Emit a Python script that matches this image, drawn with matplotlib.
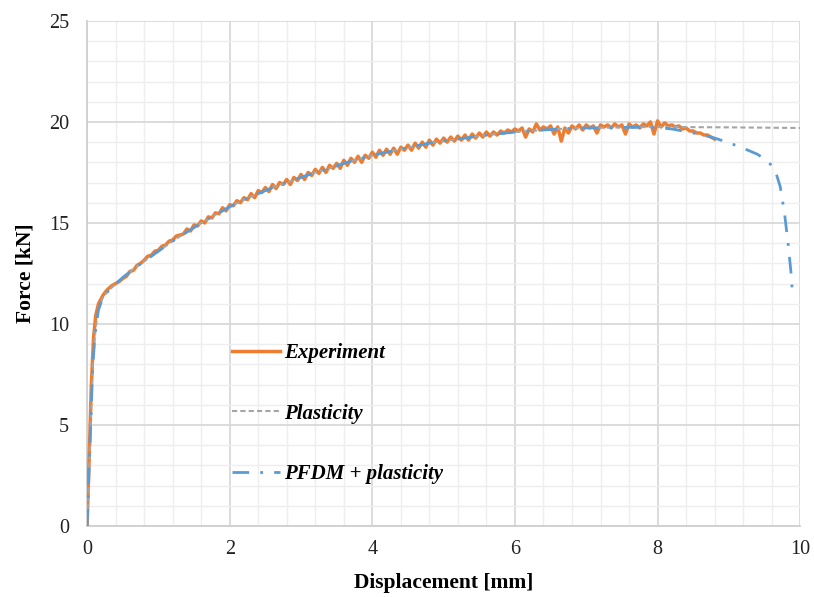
import numpy as np
import matplotlib
matplotlib.use("Agg")
import matplotlib.pyplot as plt
from matplotlib.ticker import MultipleLocator

# --- data ---
# Plasticity model (grey dashed)
plast_disp = [0.0, 0.04, 0.08, 0.12, 0.16, 0.22, 0.3, 0.5, 0.7, 1.0, 1.2, 1.4, 1.6,
              1.8, 2.0, 2.2, 2.4, 2.6, 2.8, 3.0, 3.2, 3.4, 3.6, 3.8, 4.0, 4.2, 4.4,
              4.6, 4.8, 5.0, 5.2, 5.4, 5.6, 5.8, 6.0, 6.2, 6.4, 6.6, 6.8, 7.0, 7.5,
              8.0, 9.0, 10.0]
plast_force = [0.0, 4.0, 8.0, 9.8, 10.7, 11.3, 11.65, 12.3, 12.85, 13.6, 14.1, 14.55,
               15.0, 15.4, 15.8, 16.15, 16.45, 16.75, 17.0, 17.25, 17.5, 17.7, 17.95,
               18.15, 18.35, 18.5, 18.65, 18.8, 18.95, 19.05, 19.15, 19.25, 19.35,
               19.42, 19.5, 19.55, 19.6, 19.65, 19.68, 19.7, 19.73, 19.75, 19.73, 19.7]

# PFDM + plasticity model (blue dash-dot)
pfdm_disp = [0.0, 0.04, 0.08, 0.12, 0.16, 0.22, 0.3, 0.5, 0.7, 1.0, 1.2, 1.4, 1.6,
             1.8, 2.0, 2.2, 2.4, 2.6, 2.8, 3.0, 3.2, 3.4, 3.6, 3.8, 4.0, 4.2, 4.4,
             4.6, 4.8, 5.0, 5.2, 5.4, 5.6, 5.8, 6.0, 6.2, 6.4, 6.6, 6.8, 7.0, 7.2,
             7.4, 7.6, 7.8, 8.0, 8.2, 8.4, 8.6, 8.8, 9.0, 9.2, 9.4, 9.55, 9.65,
             9.72, 9.78, 9.83, 9.87, 9.89]
pfdm_force = [0.0, 4.0, 8.0, 9.8, 10.7, 11.3, 11.65, 12.3, 12.85, 13.6, 14.1, 14.55,
              15.0, 15.4, 15.8, 16.15, 16.45, 16.75, 17.0, 17.25, 17.5, 17.7, 17.95,
              18.15, 18.35, 18.5, 18.65, 18.8, 18.95, 19.05, 19.15, 19.25, 19.35,
              19.42, 19.5, 19.55, 19.6, 19.65, 19.68, 19.7, 19.71, 19.72, 19.73,
              19.73, 19.72, 19.65, 19.52, 19.38, 19.2, 18.97, 18.7, 18.4, 18.05,
              17.6, 16.8, 15.5, 14.0, 12.6, 11.6]

# Experiment (orange, noisy)
exp_disp = [0.0, 0.03, 0.06, 0.09, 0.12, 0.16, 0.22, 0.26,
            0.30, 0.35, 0.40, 0.45, 0.50, 0.55, 0.60, 0.65, 0.70, 0.75,
            0.80, 0.85, 0.90, 0.95, 1.00, 1.05, 1.10, 1.15, 1.20, 1.25,
            1.30, 1.35, 1.40, 1.45, 1.50, 1.55, 1.60, 1.65, 1.70, 1.75,
            1.80, 1.85, 1.90, 1.95, 2.00, 2.05, 2.10, 2.15, 2.20, 2.25,
            2.30, 2.35, 2.40, 2.45, 2.50, 2.55, 2.60, 2.65, 2.70, 2.75,
            2.80, 2.85, 2.90, 2.95, 3.00, 3.05, 3.10, 3.15, 3.20, 3.25,
            3.30, 3.35, 3.40, 3.45, 3.50, 3.55, 3.60, 3.65, 3.70, 3.75,
            3.80, 3.85, 3.90, 3.95, 4.00, 4.05, 4.10, 4.15, 4.20, 4.25,
            4.30, 4.35, 4.40, 4.45, 4.50, 4.55, 4.60, 4.65, 4.70, 4.75,
            4.80, 4.85, 4.90, 4.95, 5.00, 5.05, 5.10, 5.15, 5.20, 5.25,
            5.30, 5.35, 5.40, 5.45, 5.50, 5.55, 5.60, 5.65, 5.70, 5.75,
            5.80, 5.85, 5.90, 5.95, 6.00, 6.05, 6.10, 6.15, 6.20, 6.25,
            6.30, 6.35, 6.40, 6.45, 6.50, 6.55, 6.60, 6.65, 6.70, 6.75,
            6.80, 6.85, 6.90, 6.95, 7.00, 7.05, 7.10, 7.15, 7.20, 7.25,
            7.30, 7.35, 7.40, 7.45, 7.50, 7.55, 7.60, 7.65, 7.70, 7.75,
            7.80, 7.85, 7.90, 7.95, 8.00, 8.05, 8.10, 8.15, 8.20, 8.25,
            8.30, 8.35, 8.40, 8.45, 8.50, 8.55, 8.60, 8.65, 8.70, 8.75,
            8.80]
exp_force = [0.0, 3.5, 7.0, 9.3, 10.4, 11.0, 11.4, 11.6,
             11.75, 11.9, 12.0, 12.1, 12.25, 12.35, 12.6, 12.65, 12.9, 13.0,
             13.15, 13.35, 13.4, 13.6, 13.65, 13.85, 13.9, 14.1, 14.15, 14.35,
             14.4, 14.45, 14.7, 14.6, 14.9, 14.85, 15.1, 15.0, 15.3, 15.25,
             15.5, 15.45, 15.75, 15.6, 15.9, 15.85, 16.1, 16.0, 16.25, 16.15,
             16.45, 16.25, 16.6, 16.5, 16.75, 16.55, 16.9, 16.7, 17.0, 16.9,
             17.15, 16.9, 17.25, 17.1, 17.4, 17.15, 17.5, 17.35, 17.65, 17.45,
             17.75, 17.5, 17.85, 17.7, 17.95, 17.7, 18.1, 17.85, 18.2, 18.0,
             18.3, 18.0, 18.35, 18.2, 18.5, 18.25, 18.6, 18.35, 18.65, 18.4,
             18.7, 18.4, 18.75, 18.6, 18.85, 18.6, 18.95, 18.7, 19.0, 18.75,
             19.1, 18.85, 19.15, 18.95, 19.2, 19.0, 19.25, 19.05, 19.3, 19.1,
             19.35, 19.1, 19.4, 19.2, 19.45, 19.25, 19.5, 19.3, 19.5, 19.35,
             19.55, 19.45, 19.6, 19.5, 19.65, 19.55, 19.7, 19.25, 19.65, 19.5,
             19.9, 19.6, 19.75, 19.65, 19.8, 19.4, 19.75, 19.05, 19.7, 19.45,
             19.8, 19.65, 19.85, 19.6, 19.85, 19.7, 19.8, 19.45, 19.85, 19.75,
             19.85, 19.7, 19.9, 19.75, 19.85, 19.4, 19.9, 19.75, 19.85, 19.7,
             19.9, 19.8, 20.0, 19.4, 20.05, 19.75, 19.95, 19.8, 19.85, 19.75,
             19.8, 19.65, 19.7, 19.55, 19.55, 19.45, 19.45, 19.35, 19.35, 19.25,
             19.15]

x_ticks = [0, 2, 4, 6, 8, 10]
y_ticks = [0, 5, 10, 15, 20, 25]

ORANGE = "#ED7D31"
BLUE = "#5B9BD5"
GREY = "#A5A5A5"

plt.rcParams["font.family"] = ["Liberation Serif", "DejaVu Serif"]

fig = plt.figure(figsize=(8.14, 5.97), dpi=100)
ax = fig.add_axes([0.107, 0.119, 0.876, 0.846])

ax.plot(exp_disp, exp_force, color=ORANGE, lw=2.5, label="Experiment", zorder=3)
ax.plot(plast_disp, plast_force, color=GREY, lw=1.5, dashes=(2.5, 1.5),
        label="Plasticity", zorder=4)
ax.plot(pfdm_disp, pfdm_force, color=BLUE, lw=2.0, dashes=(6, 4, 1, 4),
        label="PFDM + plasticity", zorder=4)

ax.set_xlim(0, 10)
ax.set_ylim(0, 25)
ax.set_xticks(x_ticks)
ax.set_yticks(y_ticks)
ax.xaxis.set_minor_locator(MultipleLocator(0.4))
ax.yaxis.set_minor_locator(MultipleLocator(1))
ax.grid(which="major", color="#d9d9d9", lw=1.3)
ax.grid(which="minor", color="#eeeeee", lw=1.0)
ax.set_axisbelow(True)
ax.tick_params(which="both", length=0, labelsize=14.5, colors="#222222")
ax.tick_params(axis="y", pad=13)
ax.tick_params(axis="x", pad=10)
for side in ["top", "right"]:
    ax.spines[side].set_visible(False)
for side in ["left", "bottom"]:
    ax.spines[side].set_color("#cfcfcf")
    ax.spines[side].set_linewidth(1.3)

ax.set_xlabel("Displacement [mm]", fontsize=15.5, fontweight="bold", labelpad=10)
ax.set_ylabel("Force [kN]", fontsize=15.5, fontweight="bold", labelpad=10)

leg = ax.legend(loc="upper left", bbox_to_anchor=(0.203, 0.362), frameon=False,
                prop={"style": "italic", "weight": "bold", "size": 15},
                handlelength=2.3, handletextpad=0.2, labelspacing=1.95,
                borderpad=0, borderaxespad=0)

fig.savefig("out.png", dpi=100)
